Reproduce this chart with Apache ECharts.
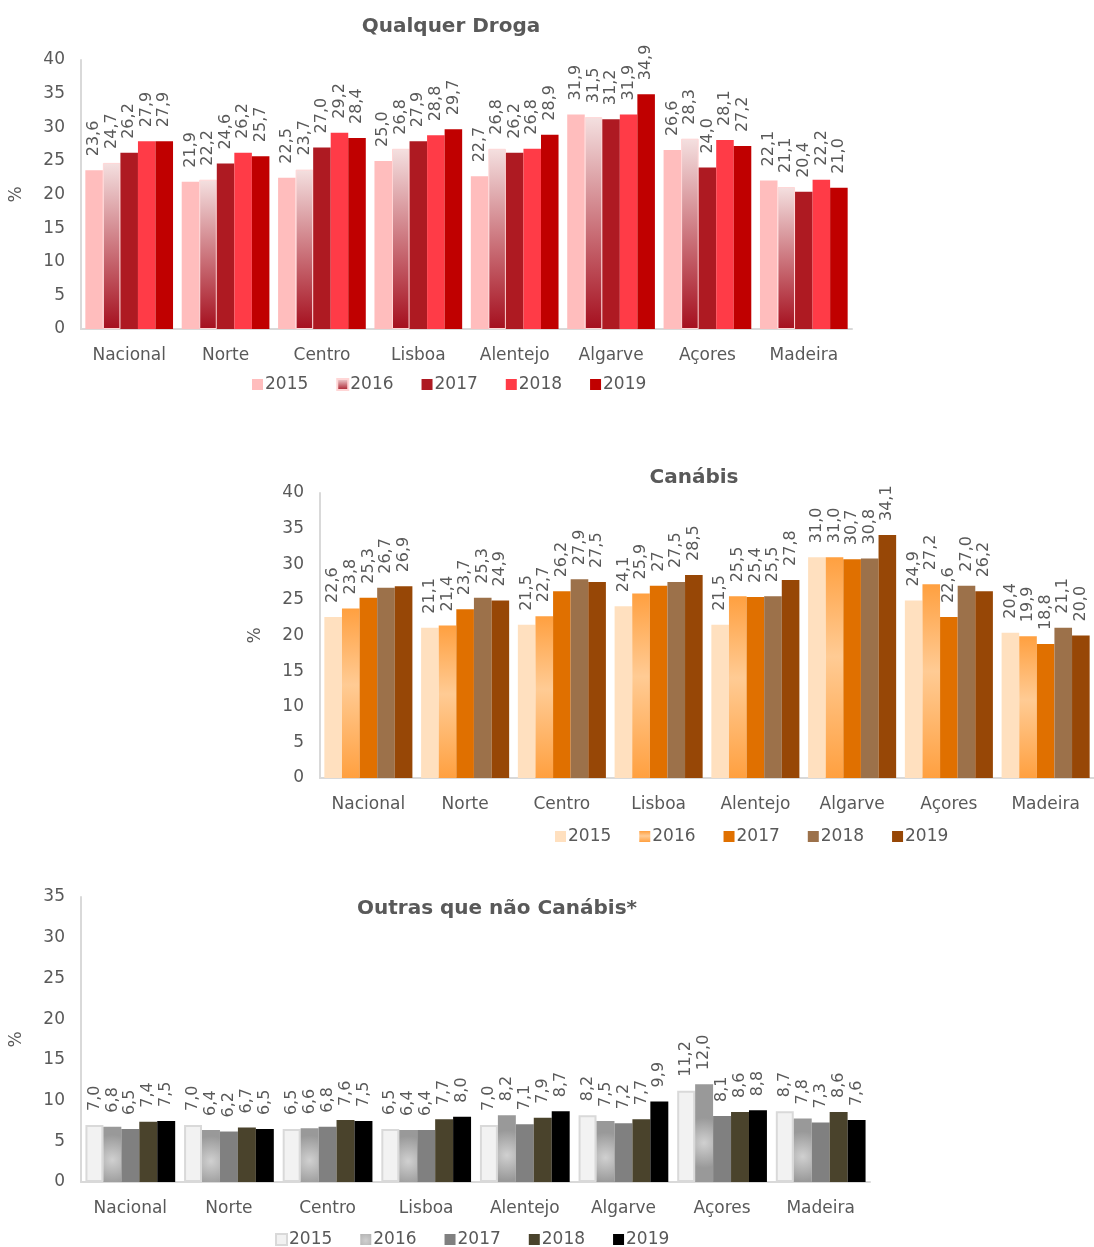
<!DOCTYPE html>
<html>
<head>
<meta charset="utf-8">
<script src="https://cdn.jsdelivr.net/npm/echarts@6/dist/echarts.min.js"></script>
<style>
  body { margin: 0; background: #fff; }
  .c { position: absolute; left: 0; width: 1094px; }
</style>
</head>
<body>
<div id="c1" class="c" style="top:0;height:410px"></div>
<div id="c2" class="c" style="top:440px;height:420px"></div>
<div id="c3" class="c" style="top:870px;height:377px"></div>
<script>
// dados
var regioes = ['Nacional', 'Norte', 'Centro', 'Lisboa', 'Alentejo', 'Algarve', 'Açores', 'Madeira'];
var anos = ['2015', '2016', '2017', '2018', '2019'];

// Qualquer Droga
var qd2015 = [23.6, 21.9, 22.5, 25.0, 22.7, 31.9, 26.6, 22.1];
var qd2016 = [24.7, 22.2, 23.7, 26.8, 26.8, 31.5, 28.3, 21.1];
var qd2017 = [26.2, 24.6, 27.0, 27.9, 26.2, 31.2, 24.0, 20.4];
var qd2018 = [27.9, 26.2, 29.2, 28.8, 26.8, 31.9, 28.1, 22.2];
var qd2019 = [27.9, 25.7, 28.4, 29.7, 28.9, 34.9, 27.2, 21.0];

// Canábis
var cn2015 = [22.6, 21.1, 21.5, 24.1, 21.5, 31.0, 24.9, 20.4];
var cn2016 = [23.8, 21.4, 22.7, 25.9, 25.5, 31.0, 27.2, 19.9];
var cn2017 = [25.3, 23.7, 26.2, 27.0, 25.4, 30.7, 22.6, 18.8];
var cn2018 = [26.7, 25.3, 27.9, 27.5, 25.5, 30.8, 27.0, 21.1];
var cn2019 = [26.9, 24.9, 27.5, 28.5, 27.8, 34.1, 26.2, 20.0];

// Outras que não Canábis
var ou2015 = [7.0, 7.0, 6.5, 6.5, 7.0, 8.2, 11.2, 8.7];
var ou2016 = [6.8, 6.4, 6.6, 6.4, 8.2, 7.5, 12.0, 7.8];
var ou2017 = [6.5, 6.2, 6.8, 6.4, 7.1, 7.2, 8.1, 7.3];
var ou2018 = [7.4, 6.7, 7.6, 7.7, 7.9, 7.7, 8.6, 8.6];
var ou2019 = [7.5, 6.5, 7.5, 8.0, 8.7, 9.9, 8.8, 7.6];

// rótulo que aparece sem casa decimal no original
var rotulosEspeciais = { 'cn|2017|Lisboa': '27' };

var FONTE = 'DejaVu Sans';
var CINZA = '#595959';

function grad(stops) {
  return new echarts.graphic.LinearGradient(0, 0, 0, 1, stops);
}

function fazGrafico(el, cfg) {
  var chart = echarts.init(document.getElementById(el));
  var series = cfg.dados.map(function (vals, i) {
    return {
      name: anos[i],
      type: 'bar',
      barGap: '0%',
      barCategoryGap: '9%',
      data: vals,
      itemStyle: cfg.estilos[i],
      label: {
        show: true,
        position: 'top',
        rotate: 90,
        align: 'left',
        verticalAlign: 'middle',
        distance: 14,
        color: CINZA,
        fontFamily: FONTE,
        fontSize: 16,
        formatter: function (p) {
          var k = cfg.id + '|' + anos[i] + '|' + p.name;
          if (rotulosEspeciais[k]) return rotulosEspeciais[k];
          return p.value.toFixed(1).replace('.', ',');
        }
      }
    };
  });
  chart.setOption({
    animation: false,
    textStyle: { fontFamily: FONTE },
    title: {
      text: cfg.titulo,
      left: cfg.tituloX,
      top: cfg.tituloY,
      textAlign: 'center',
      textStyle: { fontFamily: FONTE, fontSize: 20, fontWeight: 'bold', color: CINZA }
    },
    legend: {
      left: cfg.legX,
      top: cfg.legY,
      itemWidth: 11,
      itemHeight: 11,
      itemGap: 28,
      icon: 'rect',
      textStyle: { fontFamily: FONTE, fontSize: 17, color: CINZA, padding: [0, 0, 0, -3] },
      data: anos
    },
    grid: { left: cfg.grid[0], top: cfg.grid[1], width: cfg.grid[2], height: cfg.grid[3] },
    xAxis: {
      type: 'category',
      data: regioes,
      axisLine: { lineStyle: { color: '#D9D9D9', width: 2 } },
      axisTick: { show: false },
      axisLabel: { interval: 0, color: CINZA, fontFamily: FONTE, fontSize: 17, margin: 18 }
    },
    yAxis: {
      type: 'value',
      min: 0,
      max: cfg.max,
      interval: 5,
      name: '%',
      nameLocation: 'middle',
      nameGap: 56,
      nameRotate: 90,
      nameTextStyle: { color: CINZA, fontFamily: FONTE, fontSize: 17 },
      axisLine: { show: true, lineStyle: { color: '#D9D9D9', width: 2 } },
      axisTick: { show: false },
      splitLine: { show: false },
      axisLabel: { color: CINZA, fontFamily: FONTE, fontSize: 17, margin: 16 }
    },
    series: series
  });
}

fazGrafico('c1', {
  id: 'qd',
  titulo: 'Qualquer Droga',
  tituloX: 446, tituloY: 12,
  legX: 247, legY: 371,
  grid: [79, 60, 773, 269],
  max: 40,
  dados: [qd2015, qd2016, qd2017, qd2018, qd2019],
  estilos: [
    { color: '#FFBDBD' },
    { color: grad([{ offset: 0, color: '#F4E0E0' }, { offset: 1, color: '#A50F1E' }]), borderColor: '#FFD6D6', borderWidth: 1 },
    { color: '#AE1A22' },
    { color: '#FF3B47' },
    { color: '#C00000' }
  ]
});

fazGrafico('c2', {
  id: 'cn',
  titulo: 'Canábis',
  tituloX: 689, tituloY: 23,
  legX: 550, legY: 383,
  grid: [320, 53, 776, 285],
  max: 40,
  dados: [cn2015, cn2016, cn2017, cn2018, cn2019],
  estilos: [
    { color: '#FFE0BF' },
    { color: grad([{ offset: 0, color: '#FFA040' }, { offset: 0.45, color: '#FFCB94' }, { offset: 1, color: '#FFA040' }]) },
    { color: '#E07000' },
    { color: '#9C714A' },
    { color: '#974706' }
  ]
});

fazGrafico('c3', {
  id: 'ou',
  titulo: 'Outras que não Canábis*',
  tituloX: 492, tituloY: 24,
  legX: 270, legY: 356,
  grid: [80, 27, 790, 285],
  max: 35,
  dados: [ou2015, ou2016, ou2017, ou2018, ou2019],
  estilos: [
    { color: '#F2F2F2', borderColor: '#D9D9D9', borderWidth: 2 },
    { color: new echarts.graphic.RadialGradient(0.5, 0.6, 1.4, [{ offset: 0, color: '#D0D0D0' }, { offset: 1, color: '#999999' }]) },
    { color: '#808080' },
    { color: '#4A432C' },
    { color: '#000000' }
  ]
});
</script>
</body>
</html>
